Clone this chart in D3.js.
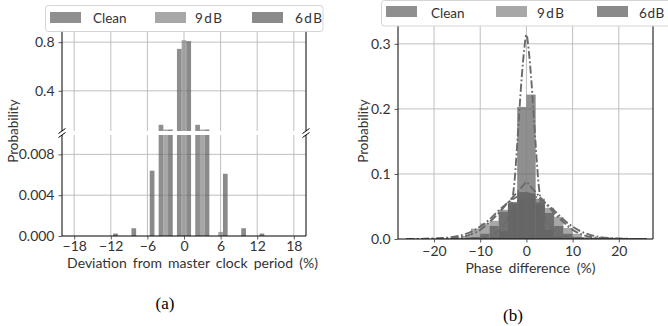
<!DOCTYPE html>
<html><head><meta charset="utf-8">
<script src="https://cdn.jsdelivr.net/npm/d3@7"></script>
<style>body{margin:0;background:#fff} svg{display:block}</style>
</head><body><svg id="c" width="668" height="326"></svg>
<script>
// ---------------- DATA ----------------
const seriesNames = ["Clean", "9dB", "6dB"];

// (a) deviation from master clock period
const devGroups = [-12, -9, -6, -3, 0, 3, 6, 9, 12];
const devClean  = [0, 0, 0, 0.121, 0.745, 0.121, 0, 0, 0];
const dev9dB    = [0, 0, 0, 0.082, 0.816, 0.082, 0.0004, 0, 0];
const dev6dB    = [0.00024, 0.00076, 0.0064, 0.082, 0.808, 0.082, 0.0061, 0.00076, 0.00024];
const devXTicks = [-18, -12, -6, 0, 6, 12, 18];
const devTopTicks = [0.4, 0.8];
const devBotTicks = [0, 0.004, 0.008];

// (b) phase difference histograms
const binEdges = [-26,-24,-22,-20,-18,-16,-14,-12,-10,-8,-6,-4,-2,0,2,4,6,8,10,12,14,16,18,20,22,24,26];
const phClean = [0,0,0,0,0,0,0,0.0005,0.001,0.003,0.012,0.055,0.203,0.222,0.062,0.014,0.004,0.001,0.0005,0,0,0,0,0,0,0];
const ph9dB   = [0,0,0,0.0005,0.001,0.002,0.005,0.016,0.024,0.028,0.045,0.052,0.06,0.062,0.052,0.048,0.034,0.017,0.008,0.003,0.001,0.0005,0,0,0,0];
const ph6dB   = [0,0,0,0,0,0.0005,0.001,0.003,0.008,0.02,0.042,0.057,0.072,0.07,0.056,0.04,0.02,0.008,0.003,0.001,0.0005,0,0,0,0,0];
// fitted curves (dash-dot)
const curveX   = [-26,-22,-18,-16,-14,-12,-10,-8,-6,-5,-4,-3,-2.5,-2,-1.5,-1,-0.5,0,0.5,1,1.5,2,2.5,3,4,5,6,8,10,12,14,16,18,22,26];
const fitClean = [0,0,0.0002,0.0003,0.0005,0.001,0.002,0.005,0.013,0.02,0.033,0.062,0.095,0.145,0.2,0.25,0.29,0.314,0.29,0.25,0.2,0.145,0.095,0.062,0.033,0.02,0.013,0.005,0.002,0.001,0.0005,0.0003,0.0002,0,0];
const fit9dB   = [0,0.0003,0.0015,0.003,0.006,0.011,0.019,0.03,0.044,0.05,0.056,0.061,0.063,0.065,0.067,0.069,0.07,0.071,0.07,0.069,0.067,0.065,0.063,0.061,0.056,0.05,0.044,0.03,0.019,0.011,0.006,0.003,0.0015,0.0003,0];
const fit6dB   = [0,0.0002,0.0008,0.0015,0.003,0.007,0.014,0.026,0.04,0.048,0.056,0.064,0.068,0.072,0.076,0.08,0.084,0.088,0.084,0.08,0.076,0.072,0.068,0.064,0.056,0.048,0.04,0.026,0.014,0.007,0.003,0.0015,0.0008,0.0002,0];
const phXTicks = [-20, -10, 0, 10, 20];
const phYTicks = [0, 0.1, 0.2, 0.3];

// ---------------- STYLE ----------------
const FONT = "Lato, 'DejaVu Sans', sans-serif";
const seriesColor = {"Clean": "#5f5f5f", "9dB": "#818181", "6dB": "#595959"};
const barOpacity = 0.7;
const gridColor = "#b8b8b8";
const textColor = "#333";
const TICK_FS = "14px";
const LABEL_FS = "14px";

const svg = d3.select("#c");
const defs = svg.append("defs");

function clip(id, x, y, w, h) {
  defs.append("clipPath").attr("id", id).append("rect").attr("x", x).attr("y", y).attr("width", w).attr("height", h);
  return "url(#" + id + ")";
}
function styleAxis(g) {
  g.select(".domain").remove();
  g.selectAll(".tick line").attr("stroke", "#333").attr("stroke-width", 0.8);
  g.selectAll(".tick text").attr("fill", textColor).style("font-family", FONT).style("font-size", TICK_FS);
}

// ================= (a) =================
const A = {l: 62, r: 306, t: 30, tb: 131, bt: 135, b: 236};
const xA = d3.scaleLinear().domain([-20, 20]).range([A.l, A.r]);
const yTop = d3.scaleLinear().domain([0.07, 0.9]).range([A.tb, A.t]);
const yBot = d3.scaleLinear().domain([0, 0.0099]).range([A.b, A.bt]);
const sub = d3.scaleBand().domain(seriesNames).range([-1.155, 1.155]);
const devData = {"Clean": devClean, "9dB": dev9dB, "6dB": dev6dB};

const gA = svg.append("g");
const gridA = gA.append("g").attr("stroke", gridColor).attr("stroke-width", 0.9);
devXTicks.forEach(v => {
  gridA.append("line").attr("x1", xA(v)).attr("x2", xA(v)).attr("y1", A.t).attr("y2", A.tb);
  gridA.append("line").attr("x1", xA(v)).attr("x2", xA(v)).attr("y1", A.bt).attr("y2", A.b);
});
devTopTicks.forEach(v => gridA.append("line").attr("x1", A.l).attr("x2", A.r).attr("y1", yTop(v)).attr("y2", yTop(v)));
devBotTicks.filter(v => v > 0).forEach(v => gridA.append("line").attr("x1", A.l).attr("x2", A.r).attr("y1", yBot(v)).attr("y2", yBot(v)));

const clipTop = clip("cTop", A.l, A.t, A.r - A.l, A.tb - A.t);
const clipBot = clip("cBot", A.l, A.bt, A.r - A.l, A.b - A.bt);
const bw = xA(sub.bandwidth()) - xA(0);
const topBars = gA.append("g").attr("clip-path", clipTop);
const botBars = gA.append("g").attr("clip-path", clipBot);
seriesNames.forEach(name => {
  const vals = devData[name];
  devGroups.forEach((g, i) => {
    const v = vals[i];
    if (v <= 0) return;
    const x = xA(g + sub(name));
    topBars.append("rect").attr("x", x).attr("width", bw)
      .attr("y", yTop(v)).attr("height", Math.max(0, yTop(0.07) - yTop(v)))
      .attr("fill", seriesColor[name]).attr("fill-opacity", barOpacity);
    botBars.append("rect").attr("x", x).attr("width", bw)
      .attr("y", yBot(v)).attr("height", yBot(0) - yBot(v))
      .attr("fill", seriesColor[name]).attr("fill-opacity", barOpacity);
  });
});

const sp = gA.append("g").attr("stroke", "#000").attr("stroke-width", 1);
sp.append("line").attr("x1", A.l).attr("x2", A.l).attr("y1", A.t).attr("y2", A.tb);
sp.append("line").attr("x1", A.r).attr("x2", A.r).attr("y1", A.t).attr("y2", A.tb);
sp.append("line").attr("x1", A.l).attr("x2", A.l).attr("y1", A.bt).attr("y2", A.b);
sp.append("line").attr("x1", A.r).attr("x2", A.r).attr("y1", A.bt).attr("y2", A.b);
sp.append("line").attr("x1", A.l).attr("x2", A.r).attr("y1", A.b).attr("y2", A.b);
[A.l, A.r].forEach(x => [A.tb, A.bt].forEach(y => {
  sp.append("line").attr("x1", x - 3.5).attr("y1", y + 2.5).attr("x2", x + 3.5).attr("y2", y - 2.5);
}));

gA.append("g").attr("transform", `translate(0,${A.b})`)
  .call(d3.axisBottom(xA).tickValues(devXTicks).tickSize(3.5).tickPadding(2).tickFormat(d3.format("d")))
  .call(styleAxis);
gA.append("g").attr("transform", `translate(${A.l},0)`)
  .call(d3.axisLeft(yTop).tickValues(devTopTicks).tickSize(3.5).tickPadding(4).tickFormat(d3.format(".1f")))
  .call(styleAxis);
gA.append("g").attr("transform", `translate(${A.l},0)`)
  .call(d3.axisLeft(yBot).tickValues(devBotTicks).tickSize(3.5).tickPadding(4).tickFormat(d3.format(".3f")))
  .call(styleAxis);

gA.append("text").attr("x", 192.5).attr("y", 267.5).attr("text-anchor", "middle")
  .style("font-family", FONT).style("font-size", LABEL_FS).style("word-spacing", "2.5px").attr("fill", textColor)
  .text("Deviation from master clock period (%)");
gA.append("text").attr("transform", "translate(17.5,131) rotate(-90)").attr("text-anchor", "middle")
  .style("font-family", FONT).style("font-size", "13.5px").attr("fill", textColor).text("Probability");

// ================= (b) =================
const B = {l: 398, r: 653, t: 25, b: 239};
const xB = d3.scaleLinear().domain([-27.8, 27.4]).range([B.l, B.r]);
const yB = d3.scaleLinear().domain([0, 0.329]).range([B.b, B.t]);
const gB = svg.append("g");
const gridB = gB.append("g").attr("stroke", gridColor).attr("stroke-width", 0.9);
phXTicks.forEach(v => gridB.append("line").attr("x1", xB(v)).attr("x2", xB(v)).attr("y1", B.t).attr("y2", B.b));
phYTicks.filter(v => v > 0).forEach(v => gridB.append("line").attr("x1", B.l).attr("x2", B.r).attr("y1", yB(v)).attr("y2", yB(v)));

const clipB = clip("cB", B.l, B.t, B.r - B.l, B.b - B.t);
const phData = {"Clean": phClean, "9dB": ph9dB, "6dB": ph6dB};
const histG = gB.append("g").attr("clip-path", clipB);
seriesNames.forEach(name => {
  const vals = phData[name];
  const g = histG.append("g").attr("fill", seriesColor[name]).attr("fill-opacity", barOpacity);
  vals.forEach((v, i) => {
    if (v <= 0) return;
    g.append("rect").attr("x", xB(binEdges[i])).attr("width", xB(binEdges[i + 1]) - xB(binEdges[i]))
      .attr("y", yB(v)).attr("height", yB(0) - yB(v));
  });
});
const fits = [fitClean, fit9dB, fit6dB];
const line = d3.line().x((d, i) => xB(curveX[i])).y(d => yB(d)).curve(d3.curveMonotoneX);
const lineG = gB.append("g").attr("clip-path", clipB);
fits.forEach(f => {
  lineG.append("path").attr("d", line(f)).attr("fill", "none")
    .attr("stroke", "#6a6a6a").attr("stroke-width", 1.9)
    .attr("stroke-dasharray", "8,2.5,1.8,2.5");
});

const spB = gB.append("g").attr("stroke", "#000").attr("stroke-width", 1);
spB.append("line").attr("x1", B.l).attr("x2", B.l).attr("y1", B.t).attr("y2", B.b);
spB.append("line").attr("x1", B.r).attr("x2", B.r).attr("y1", B.t).attr("y2", B.b);
spB.append("line").attr("x1", B.l).attr("x2", B.r).attr("y1", B.b).attr("y2", B.b);

gB.append("g").attr("transform", `translate(0,${B.b})`)
  .call(d3.axisBottom(xB).tickValues(phXTicks).tickSize(3.5).tickPadding(4).tickFormat(d3.format("d")))
  .call(styleAxis);
gB.append("g").attr("transform", `translate(${B.l},0)`)
  .call(d3.axisLeft(yB).tickValues(phYTicks).tickSize(3.5).tickPadding(4).tickFormat(d3.format(".1f")))
  .call(styleAxis);
gB.append("text").attr("x", 530.5).attr("y", 273).attr("text-anchor", "middle")
  .style("font-family", FONT).style("font-size", LABEL_FS).style("word-spacing", "3px").attr("fill", textColor).text("Phase difference (%)");
gB.append("text").attr("transform", "translate(367.5,131) rotate(-90)").attr("text-anchor", "middle")
  .style("font-family", FONT).style("font-size", "13.5px").attr("fill", textColor).text("Probability");

// ================= legends =================
function legend(box, patchXs, textXs, patchY, textY, spacing) {
  const g = svg.append("g");
  g.append("rect").attr("x", box[0]).attr("y", box[1]).attr("width", box[2]).attr("height", box[3]).attr("rx", 3)
    .attr("fill", "#fff").attr("fill-opacity", 0.85).attr("stroke", "#d5d5d5").attr("stroke-width", 1);
  seriesNames.forEach((name, i) => {
    g.append("rect").attr("x", patchXs[i]).attr("y", patchY).attr("width", 31).attr("height", 11)
      .attr("fill", seriesColor[name]).attr("fill-opacity", barOpacity);
    g.append("text").attr("x", textXs[i]).attr("y", textY)
      .style("font-family", FONT).style("font-size", "13.5px")
      .style("letter-spacing", spacing[i]).attr("fill", textColor).text(name);
  });
}
legend([45.5, 5.5, 277.5, 26], [50, 155, 252], [93, 195, 295], 12, 23, ["0px", "1.5px", "1.5px"]);
legend([381.5, 0.5, 300, 25.5], [386, 496, 597], [431, 537, 639], 6, 17.5, ["0px", "1.5px", "0.6px"]);

// captions
svg.append("text").attr("x", 165).attr("y", 309).attr("text-anchor", "middle")
  .style("font-family", "'Liberation Serif', serif").style("font-size", "17px").text("(a)");
svg.append("text").attr("x", 513).attr("y", 321).attr("text-anchor", "middle")
  .style("font-family", "'Liberation Serif', serif").style("font-size", "17px").text("(b)");
</script></body></html>
